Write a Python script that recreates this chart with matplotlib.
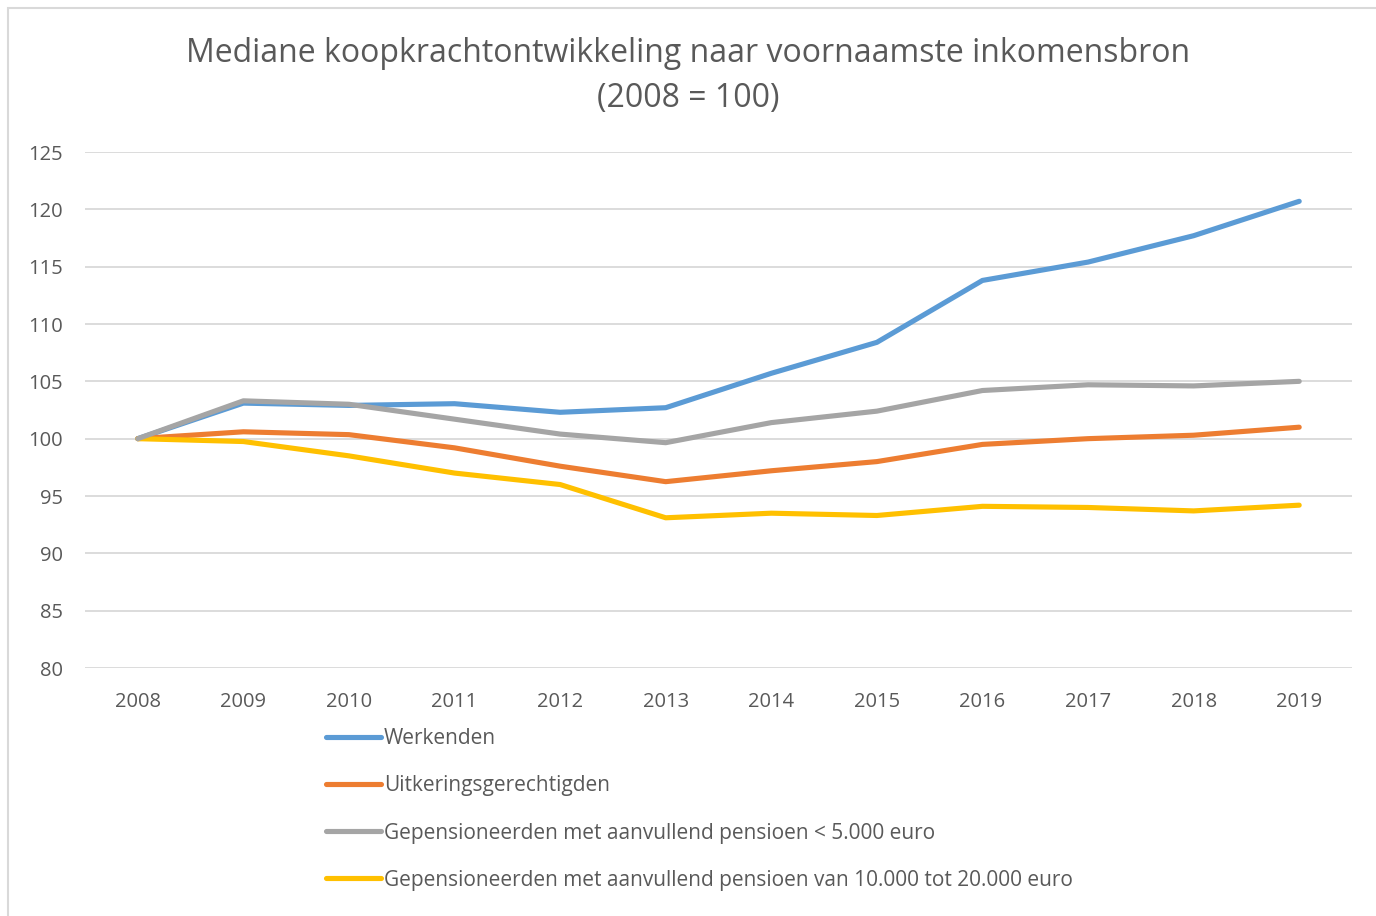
import matplotlib
matplotlib.use("Agg")
import matplotlib.pyplot as plt
from matplotlib.patches import Rectangle

plt.rcParams['font.family'] = ['Open Sans', 'DejaVu Sans']

years = [2008, 2009, 2010, 2011, 2012, 2013, 2014, 2015, 2016, 2017, 2018, 2019]
werkenden = [100, 103.1, 102.9, 103.05, 102.3, 102.7, 105.7, 108.4, 113.8, 115.4, 117.7, 120.7]
uitkering = [100, 100.6, 100.35, 99.2, 97.6, 96.25, 97.2, 98.0, 99.5, 100.0, 100.3, 101.0]
pens_laag = [100, 103.3, 103.0, 101.7, 100.4, 99.65, 101.4, 102.4, 104.2, 104.7, 104.6, 105.0]
pens_midden = [100, 99.75, 98.5, 97.0, 96.0, 93.1, 93.5, 93.3, 94.1, 94.0, 93.7, 94.2]

labels = ["Werkenden",
          "Uitkeringsgerechtigden",
          "Gepensioneerden met aanvullend pensioen < 5.000 euro",
          "Gepensioneerden met aanvullend pensioen van 10.000 tot 20.000 euro"]
colors = ["#5B9BD5", "#ED7D31", "#A5A5A5", "#FFC000"]
yticks = [80, 85, 90, 95, 100, 105, 110, 115, 120, 125]

fig = plt.figure(figsize=(13.76, 9.16), dpi=100)
fig.patches.append(Rectangle((8/1376, -0.01), 1.1, 1 - 8/916 + 0.01, transform=fig.transFigure,
                             fill=False, edgecolor="#D9D9D9", linewidth=1.5))

ax = fig.add_axes([85/1376, 1 - 668/916, (1352 - 85)/1376, (668 - 152)/916])
xs = list(range(len(years)))
series = [werkenden, uitkering, pens_laag, pens_midden]
# grey is drawn on top of blue in the original
order = [0, 1, 3, 2]
lines = [None] * 4
for i in order:
    ln, = ax.plot(xs, series[i], color=colors[i], linewidth=3.7,
                  solid_capstyle='round', solid_joinstyle='round', label=labels[i])
    lines[i] = ln

ax.set_xlim(-0.5, len(years) - 0.5)
ax.set_ylim(80, 125)
ax.set_yticks(yticks)
ax.set_xticks(xs)
ax.set_xticklabels([str(y) for y in years])
ax.grid(axis='y', color="#D9D9D9", linewidth=1.3)
ax.set_axisbelow(True)
for s in ax.spines.values():
    s.set_visible(False)
ax.tick_params(length=0, colors="#595959", labelsize=14.5)
ax.tick_params(axis='x', pad=17)
ax.tick_params(axis='y', pad=16)

fig.text(0.5, 1 - 54/916, "Mediane koopkrachtontwikkeling naar voornaamste inkomensbron",
         ha='center', va='center', fontsize=23, color="#595959")
fig.text(0.5, 1 - 99/916, "(2008 = 100)", ha='center', va='center', fontsize=23, color="#595959")

fig.legend(lines, labels, loc='upper left', bbox_to_anchor=(316/1376, 1 - 718/916),
           frameon=False, fontsize=15, labelcolor="#595959", handlelength=2.6,
           handletextpad=0.15, labelspacing=1.25, borderpad=0)

fig.savefig("out.png", dpi=100)
